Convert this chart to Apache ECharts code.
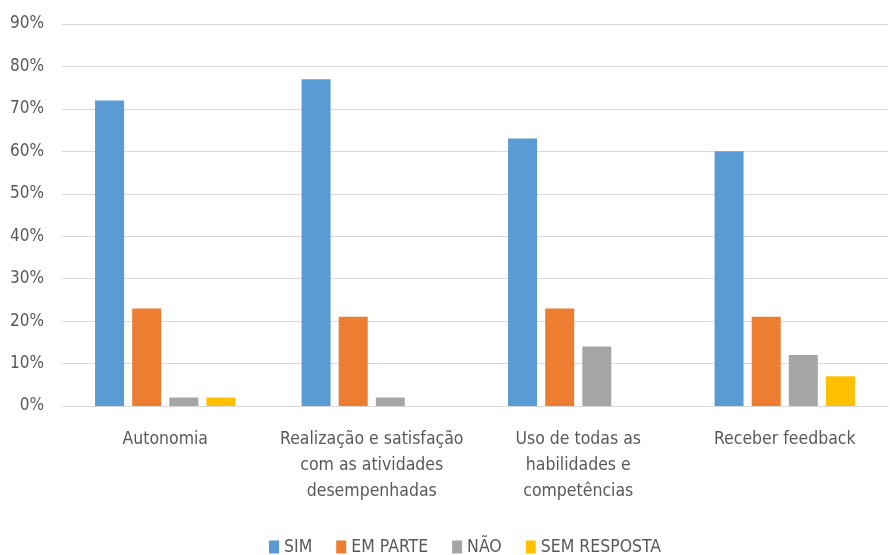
<!DOCTYPE html>
<html>
<head>
<meta charset="utf-8">
<script src="https://cdn.jsdelivr.net/npm/echarts@6/dist/echarts.min.js"></script>
<style>
  html, body { margin: 0; padding: 0; background: #fff; }
  #chart { width: 890px; height: 555px; }
</style>
</head>
<body>
<div id="chart"></div>
<script>
// categorias e valores (%)
var categories = [
    'Autonomia',
    'Realização e satisfação\ncom as atividades\ndesempenhadas',
    'Uso de todas as\nhabilidades e\ncompetências',
    'Receber feedback'
];
var sim = [72, 77, 63, 60];
var emParte = [23, 21, 23, 21];
var nao = [2, 2, 14, 12];
var semResposta = [2, 0, 0, 7];

var font = "'Liberation Sans Narrow', 'DejaVu Sans Condensed', sans-serif";
var textColor = '#595959';

var myChart = echarts.init(document.getElementById('chart'));

function bar(name, data, color) {
    return {
        name: name,
        type: 'bar',
        data: data,
        barWidth: 29,
        barGap: '28%',
        itemStyle: { color: color }
    };
}

var option = {
    animation: false,
    textStyle: { fontFamily: font },
    grid: { left: 62, right: 2, top: 24, bottom: 149 },
    legend: {
        top: 533,
        left: 264,
        itemWidth: 10,
        itemHeight: 13,
        itemGap: 24,
        icon: 'rect',
        textStyle: { color: textColor, fontSize: 17.5, fontFamily: font },
        data: ['SIM', 'EM PARTE', 'NÃO', 'SEM RESPOSTA']
    },
    xAxis: {
        type: 'category',
        data: categories,
        axisLine: { lineStyle: { color: '#D9D9D9' } },
        axisTick: { show: false },
        axisLabel: {
            color: textColor,
            fontSize: 17.5,
            lineHeight: 26,
            margin: 20,
            interval: 0,
            fontFamily: font
        }
    },
    yAxis: {
        type: 'value',
        min: 0,
        max: 90,
        interval: 10,
        axisLine: { show: false },
        axisTick: { show: false },
        splitLine: { lineStyle: { color: '#D9D9D9', width: 1 } },
        axisLabel: {
            color: textColor,
            fontSize: 17,
            margin: 18,
            fontFamily: font,
            formatter: '{value}%'
        }
    },
    series: [
        bar('SIM', sim, '#5B9BD5'),
        bar('EM PARTE', emParte, '#ED7D31'),
        bar('NÃO', nao, '#A5A5A5'),
        bar('SEM RESPOSTA', semResposta, '#FFC000')
    ]
};

myChart.setOption(option);
</script>
</body>
</html>
